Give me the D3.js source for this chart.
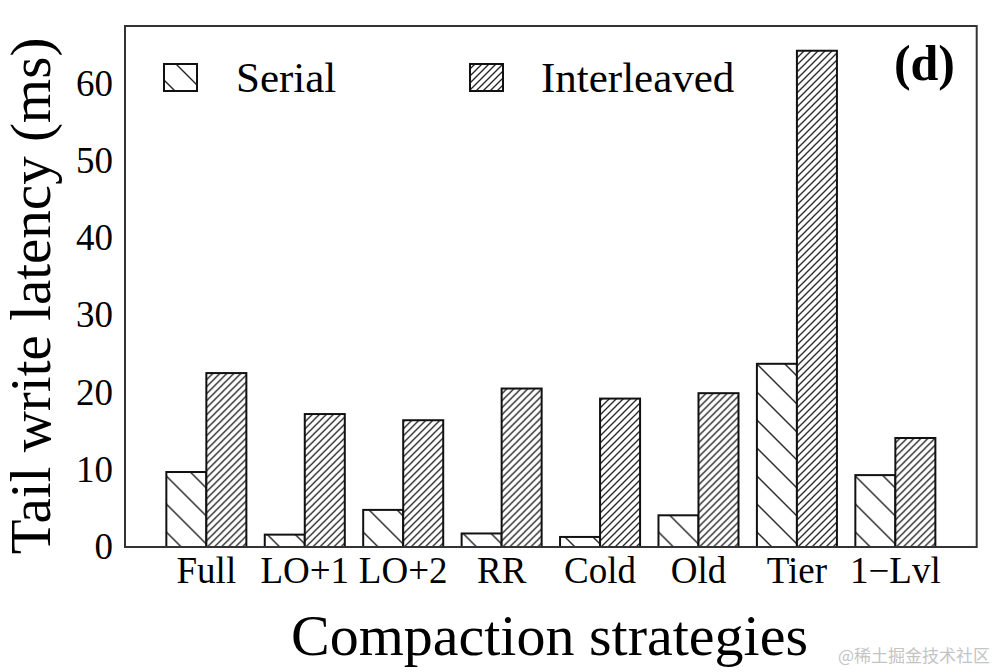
<!DOCTYPE html>
<html>
<head>
<meta charset="utf-8">
<script src="https://cdn.jsdelivr.net/npm/d3@7"></script>
<style>
  html, body { margin: 0; padding: 0; background: #fff; }
  svg { display: block; }
</style>
</head>
<body>
<svg id="chart" width="994" height="672"></svg>
<script>
const categories = ["Full", "LO+1", "LO+2", "RR", "Cold", "Old", "Tier", "1\u2212Lvl"];
const seriesNames = ["Serial", "Interleaved"];
const serialValues = [9.7, 1.6, 4.8, 1.75, 1.3, 4.1, 23.7, 9.3];
const interleavedValues = [22.5, 17.2, 16.4, 20.5, 19.2, 19.9, 64.2, 14.1];
const yTicks = [0, 10, 20, 30, 40, 50, 60];
const yLabel = "Tail write latency (ms)";
const xLabel = "Compaction strategies";
const panelLabel = "(d)";
const watermark = "@稀土掘金技术社区";

(function () {
const svg = d3.select("#chart");
const mLeft = 125, mRight = 976.7, mTop = 26, mBottom = 547;
const serif = "'Liberation Serif', 'DejaVu Serif', serif";

const defs = svg.append("defs");
const p1 = defs.append("pattern").attr("id", "hatchSerial")
  .attr("patternUnits", "userSpaceOnUse").attr("width", 28).attr("height", 28);
p1.append("rect").attr("width", 28).attr("height", 28).attr("fill", "#fff");
p1.append("path").attr("d", "M0,0 L28,28 M-7,21 L7,35 M21,-7 L35,7")
  .attr("stroke", "#222").attr("stroke-width", 1.4);
const p2 = defs.append("pattern").attr("id", "hatchInter")
  .attr("patternUnits", "userSpaceOnUse").attr("width", 7).attr("height", 7);
p2.append("rect").attr("width", 7).attr("height", 7).attr("fill", "#fff");
p2.append("path").attr("d", "M0,7 L7,0 M-1,1 L1,-1 M6,8 L8,6")
  .attr("stroke", "#222").attr("stroke-width", 1.3);
const fills = ["url(#hatchSerial)", "url(#hatchInter)"];

const x = d3.scaleBand().domain(categories).range([mLeft, mRight])
  .paddingInner(0.187).paddingOuter(0.42);
const xs = d3.scaleBand().domain(seriesNames).range([0, x.bandwidth()]);
const y = d3.scaleLinear().domain([0, 67.4]).range([mBottom, mTop]);

const data = categories.map((c, i) => ({ cat: c, vals: [serialValues[i], interleavedValues[i]] }));

const groups = svg.append("g").selectAll("g").data(data).join("g")
  .attr("transform", d => `translate(${x(d.cat)},0)`);
groups.selectAll("rect").data(d => d.vals.map((v, k) => ({ v, k })))
  .join("rect")
  .attr("x", d => xs(seriesNames[d.k]))
  .attr("y", d => y(d.v))
  .attr("width", xs.bandwidth())
  .attr("height", d => y(0) - y(d.v))
  .attr("fill", d => fills[d.k])
  .attr("stroke", "#111").attr("stroke-width", 2);

const yAxis = d3.axisLeft(y).tickValues(yTicks).tickSize(0).tickPadding(12);
const gy = svg.append("g").attr("transform", `translate(${mLeft},0)`).call(yAxis);
gy.select(".domain").remove();
gy.selectAll("text").attr("font-family", serif).attr("font-size", 37).attr("fill", "#000");

const xAxis = d3.axisBottom(x).tickSize(0).tickPadding(10);
const gx = svg.append("g").attr("transform", `translate(0,${mBottom})`).call(xAxis);
gx.select(".domain").remove();
gx.selectAll("text").attr("font-family", serif).attr("font-size", 37).attr("fill", "#000");

svg.append("rect").attr("x", mLeft).attr("y", mTop)
  .attr("width", mRight - mLeft).attr("height", mBottom - mTop)
  .attr("fill", "none").attr("stroke", "#333").attr("stroke-width", 2);

svg.append("text").attr("transform", `translate(50,${(552 + 40) / 2}) rotate(-90)`)
  .attr("text-anchor", "middle").attr("font-family", serif).attr("font-size", 57)
  .attr("fill", "#000").text(yLabel);
svg.append("text").attr("x", (293 + 806) / 2).attr("y", 655)
  .attr("text-anchor", "middle").attr("font-family", serif).attr("font-size", 58)
  .attr("fill", "#000").text(xLabel);

svg.append("text").attr("x", 955).attr("y", 80).attr("text-anchor", "end")
  .attr("font-family", serif).attr("font-weight", "bold").attr("font-size", 50)
  .attr("fill", "#000").text(panelLabel);

const legendPos = [{ bx: 164, tx: 236 }, { bx: 470, tx: 541 }];
seriesNames.forEach((name, i) => {
  const g = svg.append("g");
  g.append("rect").attr("x", legendPos[i].bx).attr("y", 64)
    .attr("width", 33).attr("height", 27)
    .attr("fill", fills[i]).attr("stroke", "#111").attr("stroke-width", 2);
  g.append("text").attr("x", legendPos[i].tx).attr("y", 92)
    .attr("font-family", serif).attr("font-size", 43).attr("fill", "#000").text(name);
});

svg.append("text").attr("x", 990).attr("y", 662).attr("text-anchor", "end")
  .attr("font-family", "'Noto Sans CJK SC', sans-serif").attr("font-size", 17)
  .attr("fill", "#c4c4c4").text(watermark);
})();
</script>
</body>
</html>
